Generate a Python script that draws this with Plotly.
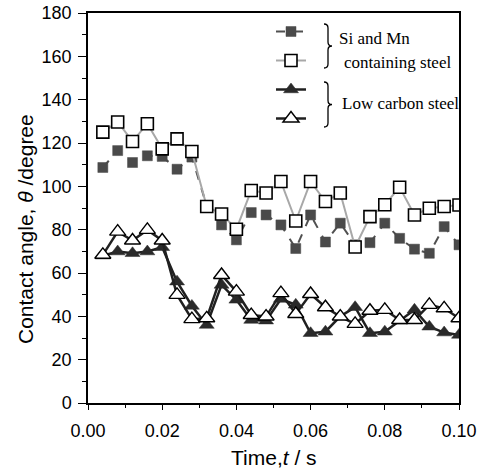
import plotly.graph_objects as go

# ---- data ----
time_s = [0.004, 0.008, 0.012, 0.016, 0.020, 0.024, 0.028, 0.032, 0.036, 0.040,
          0.044, 0.048, 0.052, 0.056, 0.060, 0.064, 0.068, 0.072, 0.076, 0.080,
          0.084, 0.088, 0.092, 0.096, 0.100]

simn_filled = [108.7, 116.5, 111.0, 114.1, 113.8, 107.9, 113.5, 91.0, 82.2, 75.3,
               87.9, 86.8, 82.2, 71.3, 86.8, 74.3, 83.0, 73.0, 74.0, 83.0,
               76.0, 71.0, 69.1, 81.4, 73.0]

simn_open = [125.0, 129.7, 120.7, 128.9, 117.3, 121.9, 116.1, 90.7, 87.2, 80.2,
             98.1, 96.9, 102.2, 84.0, 102.2, 93.0, 96.9, 72.0, 86.0, 91.5,
             99.6, 86.8, 89.9, 90.7, 91.4]

lc_filled = [68.0, 69.9, 69.1, 69.9, 71.9, 56.0, 44.8, 36.0, 54.5, 47.6,
             38.3, 38.0, 48.0, 45.3, 32.2, 32.9, 40.0, 44.2, 32.2, 32.9,
             38.0, 43.0, 35.2, 32.5, 31.4]

lc_open = [68.4, 79.1, 75.0, 79.9, 75.0, 49.9, 38.7, 39.1, 59.1, 51.4,
           40.6, 39.9, 50.7, 41.1, 50.3, 44.2, 39.9, 36.5, 42.6, 43.0,
           38.3, 38.3, 45.3, 43.7, 39.1]

x_ticks = [0.00, 0.02, 0.04, 0.06, 0.08, 0.10]
y_ticks = [0, 20, 40, 60, 80, 100, 120, 140, 160, 180]

# ---- figure geometry (pixels) ----
W, H = 478, 470
L, R, T, B = 88, 19, 13, 67
PW, PH = W - L - R, H - T - B


def px(x):
    return (x - L) / PW


def py(y):
    return (H - B - y) / PH


fig = go.Figure()

fig.add_trace(go.Scatter(
    x=time_s, y=simn_filled, mode="lines+markers", name=" ",
    line=dict(color="#505050", width=2, dash="dash"),
    marker=dict(symbol="square", size=10, color="#4a4a4a",
                line=dict(color="#4a4a4a", width=0.5))))
fig.add_trace(go.Scatter(
    x=time_s, y=simn_open, mode="lines+markers", name=" ",
    line=dict(color="#a8a8a8", width=2),
    marker=dict(symbol="square", size=12, color="white",
                line=dict(color="black", width=1.6))))
fig.add_trace(go.Scatter(
    x=time_s, y=lc_filled, mode="lines+markers", name=" ",
    line=dict(color="#202020", width=2.5),
    marker=dict(symbol="triangle-up", size=13, color="#2a2a2a",
                line=dict(color="#2a2a2a", width=0.5))))
fig.add_trace(go.Scatter(
    x=time_s, y=lc_open, mode="lines+markers", name=" ",
    line=dict(color="#202020", width=2.5),
    marker=dict(symbol="triangle-up", size=14, color="white",
                line=dict(color="black", width=1.4))))


def brace(x0, ytop, ybot):
    xs, tip = x0 + 4, x0 + 8
    mid = (ytop + ybot) / 2
    pts = [("M", [(x0, ytop)]),
           ("Q", [(xs, ytop), (xs, ytop + 4)]),
           ("L", [(xs, mid - 4)]),
           ("Q", [(xs, mid), (tip, mid)]),
           ("Q", [(xs, mid), (xs, mid + 4)]),
           ("L", [(xs, ybot - 4)]),
           ("Q", [(xs, ybot), (x0, ybot)])]
    s = ""
    for cmd, ps in pts:
        s += cmd + " ".join(f"{px(a):.5f},{py(b):.5f}" for a, b in ps) + " "
    return s.strip()


for (yt, yb) in [(24, 68), (82, 127)]:
    fig.add_shape(type="path", path=brace(324, yt, yb), xref="paper", yref="paper",
                  line=dict(color="black", width=1.3))

serif = "Liberation Serif"
sans = "Liberation Sans, Arial"
for txt, x, y in [("Si and Mn", 337, 39), ("containing steel", 342, 62),
                  ("Low carbon steel", 340, 104)]:
    fig.add_annotation(text=txt, x=px(x), y=py(y), xref="paper", yref="paper",
                       xanchor="left", yanchor="middle", showarrow=False,
                       font=dict(family=serif, size=17, color="black"))

fig.add_annotation(text="Contact angle, <i>θ</i> /degree", textangle=-90,
                   x=px(25), y=py(229), xref="paper", yref="paper",
                   xanchor="center", yanchor="middle", showarrow=False,
                   font=dict(family=sans, size=21, color="black"))
fig.add_annotation(text="Time,<i>t</i> / s",
                   x=px(274), y=py(457), xref="paper", yref="paper",
                   xanchor="center", yanchor="middle", showarrow=False,
                   font=dict(family=sans, size=21, color="black"))

fig.update_layout(
    width=W, height=H,
    margin=dict(l=L, r=R, t=T, b=B, autoexpand=False),
    paper_bgcolor="white", plot_bgcolor="white",
    showlegend=True,
    legend=dict(x=px(271), y=py(12), xanchor="left", yanchor="top",
                bgcolor="rgba(0,0,0,0)", font=dict(family=serif, size=20),
                itemwidth=30, tracegroupgap=0),
    font=dict(family=sans, color="black"),
)
fig.update_xaxes(
    range=[0, 0.1], tickvals=x_ticks, tickformat=".2f", automargin=False,
    showline=True, linecolor="black", linewidth=1.5, mirror=True,
    ticks="outside", ticklen=5, tickwidth=1.3, tickcolor="black",
    ticklabelstandoff=6,
    minor=dict(dtick=0.01, ticks="outside", ticklen=3, tickcolor="black", tickwidth=1),
    showgrid=False, zeroline=False,
    tickfont=dict(family=sans, size=18, color="black"))
fig.update_yaxes(
    range=[0, 180], tickvals=y_ticks, automargin=False,
    showline=True, linecolor="black", linewidth=1.5, mirror=True,
    ticks="outside", ticklen=8, tickwidth=1.3, tickcolor="black",
    ticklabelstandoff=3,
    minor=dict(dtick=10, ticks="outside", ticklen=4, tickcolor="black", tickwidth=1),
    showgrid=False, zeroline=False,
    tickfont=dict(family=sans, size=18, color="black"))

fig.write_html("out.html")
